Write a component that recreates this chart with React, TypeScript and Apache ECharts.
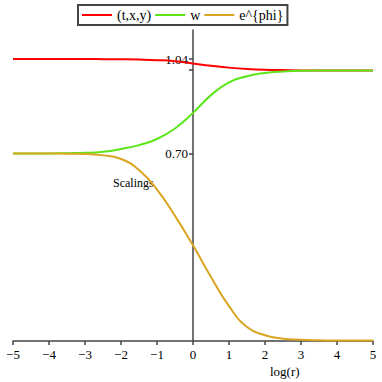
import React, { useEffect, useRef } from "react";
import * as echarts from "echarts";

const xs = [-5, -4, -3.5, -3, -2.5, -2, -1.5, -1, -0.5, 0, 0.5, 1, 1.5, 2, 2.5, 3, 3.5, 4, 4.5, 5];
const txyValues = [1.04, 1.04, 1.04, 1.04, 1.0395, 1.039, 1.038, 1.036, 1.032, 1.024, 1.016, 1.009, 1.004, 1.001, 1.0, 0.999, 0.999, 0.999, 0.999, 0.999];
const wValues = [0.7, 0.7, 0.701, 0.702, 0.706, 0.716, 0.73, 0.752, 0.79, 0.846, 0.91, 0.956, 0.978, 0.99, 0.995, 0.998, 0.999, 0.999, 0.999, 0.999];
const phiValues = [0.7, 0.7, 0.699, 0.698, 0.693, 0.68, 0.64, 0.57, 0.475, 0.369, 0.255, 0.15, 0.075, 0.045, 0.033, 0.029, 0.027, 0.026, 0.026, 0.026];
const seriesNames = ["(t,x,y)", "w", "e^{phi}"];
const yTickValues = [0.7, 1.0, 1.04];
const yLabelValues = [0.7, 1.04];

const FONT = "Liberation Serif";

export default function App() {
  const ref = useRef<HTMLDivElement>(null);
  useEffect(() => {
    if (!ref.current) return;
    const chart = echarts.init(ref.current, null, { renderer: "svg" });
    const zip = (vals: number[]) => xs.map((x, i) => [x, vals[i]]);
    const colors = ["#ff0000", "#5ce61a", "#daa520"];
    const valsList = [txyValues, wValues, phiValues];
    chart.setOption({
      animation: false,
      textStyle: { fontFamily: FONT },
      grid: { left: 13, right: 9, top: 30, bottom: 41, containLabel: false, outerBoundsMode: "none" },
      legend: {
        left: 78,
        top: 5,
        icon: "rect",
        itemWidth: 30,
        itemHeight: 2,
        itemGap: 4,
        padding: [3, 4, 3, 4],
        borderColor: "#444",
        borderWidth: 2,
        textStyle: { fontFamily: FONT, fontSize: 14, color: "#000", lineHeight: 14 },
        data: seriesNames,
      },
      xAxis: {
        type: "value",
        min: -5,
        max: 5,
        interval: 1,
        splitLine: { show: false },
        axisLine: { lineStyle: { color: "#444", width: 1.5 } },
        axisTick: { length: 4, lineStyle: { color: "#444", width: 1.5 } },
        axisLabel: {
          fontFamily: FONT,
          fontSize: 13,
          color: "#000",
          margin: 7,
          formatter: (v: number) => String(v).replace("-", "\u2212"),
        },
      },
      yAxis: {
        type: "value",
        min: 0.0245,
        max: 1.1445,
        offset: -180,
        splitLine: { show: false },
        axisLine: { onZero: false, lineStyle: { color: "#444", width: 1.5 } },
        axisTick: { length: 4, customValues: yTickValues, lineStyle: { color: "#444", width: 1.5 } },
        axisLabel: {
          fontFamily: FONT,
          fontSize: 13,
          color: "#000",
          margin: 5,
          customValues: yLabelValues,
          formatter: (v: number) => v.toFixed(2),
        },
      },
      graphic: [
        {
          type: "text",
          left: 113,
          top: 177,
          style: { text: "Scalings", fontFamily: FONT, fontSize: 12, fill: "#000" },
        },
        {
          type: "text",
          left: 270,
          top: 365,
          style: { text: "log(r)", fontFamily: FONT, fontSize: 13, fill: "#000" },
        },
      ],
      series: seriesNames.map((name, i) => ({
        name,
        type: "line",
        data: zip(valsList[i]),
        smooth: true,
        symbol: "none",
        color: colors[i],
        lineStyle: { color: colors[i], width: 2 },
      })),
    });
    return () => chart.dispose();
  }, []);
  return <div ref={ref} style={{ width: 382, height: 382, position: "absolute", left: 0, top: 0 }} />;
}
